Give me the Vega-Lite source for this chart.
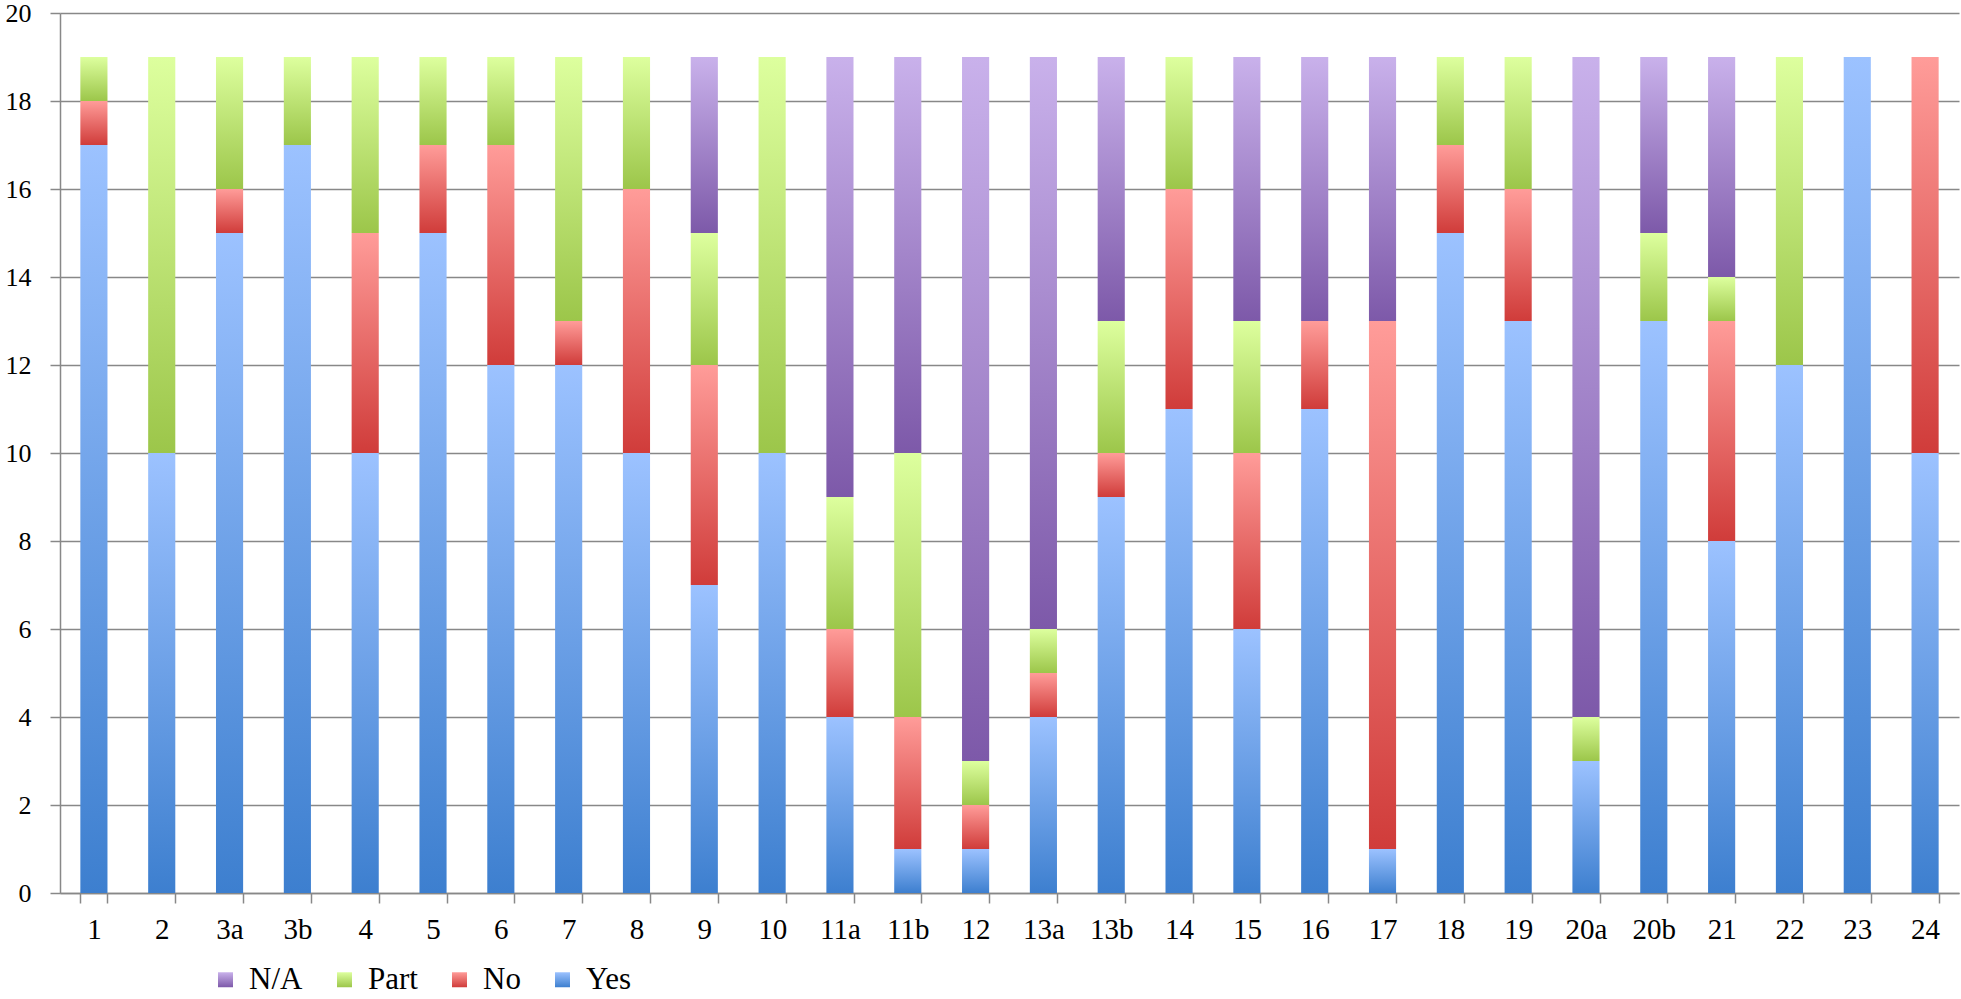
{
  "$schema": "https://vega.github.io/schema/vega-lite/v6.json",
  "width": 1899,
  "height": 880,
  "autosize": {"type": "none"},
  "padding": {"left": 60, "top": 13, "right": 2, "bottom": 106},
  "background": "white",
  "config": {"view": {"stroke": null}, "font": "Liberation Serif"},
  "data": {"values": [
    {"q":"1","s":"Yes","n":17},{"q":"1","s":"No","n":1},{"q":"1","s":"Part","n":1},
    {"q":"2","s":"Yes","n":10},{"q":"2","s":"Part","n":9},
    {"q":"3a","s":"Yes","n":15},{"q":"3a","s":"No","n":1},{"q":"3a","s":"Part","n":3},
    {"q":"3b","s":"Yes","n":17},{"q":"3b","s":"Part","n":2},
    {"q":"4","s":"Yes","n":10},{"q":"4","s":"No","n":5},{"q":"4","s":"Part","n":4},
    {"q":"5","s":"Yes","n":15},{"q":"5","s":"No","n":2},{"q":"5","s":"Part","n":2},
    {"q":"6","s":"Yes","n":12},{"q":"6","s":"No","n":5},{"q":"6","s":"Part","n":2},
    {"q":"7","s":"Yes","n":12},{"q":"7","s":"No","n":1},{"q":"7","s":"Part","n":6},
    {"q":"8","s":"Yes","n":10},{"q":"8","s":"No","n":6},{"q":"8","s":"Part","n":3},
    {"q":"9","s":"Yes","n":7},{"q":"9","s":"No","n":5},{"q":"9","s":"Part","n":3},{"q":"9","s":"N/A","n":4},
    {"q":"10","s":"Yes","n":10},{"q":"10","s":"Part","n":9},
    {"q":"11a","s":"Yes","n":4},{"q":"11a","s":"No","n":2},{"q":"11a","s":"Part","n":3},{"q":"11a","s":"N/A","n":10},
    {"q":"11b","s":"Yes","n":1},{"q":"11b","s":"No","n":3},{"q":"11b","s":"Part","n":6},{"q":"11b","s":"N/A","n":9},
    {"q":"12","s":"Yes","n":1},{"q":"12","s":"No","n":1},{"q":"12","s":"Part","n":1},{"q":"12","s":"N/A","n":16},
    {"q":"13a","s":"Yes","n":4},{"q":"13a","s":"No","n":1},{"q":"13a","s":"Part","n":1},{"q":"13a","s":"N/A","n":13},
    {"q":"13b","s":"Yes","n":9},{"q":"13b","s":"No","n":1},{"q":"13b","s":"Part","n":3},{"q":"13b","s":"N/A","n":6},
    {"q":"14","s":"Yes","n":11},{"q":"14","s":"No","n":5},{"q":"14","s":"Part","n":3},
    {"q":"15","s":"Yes","n":6},{"q":"15","s":"No","n":4},{"q":"15","s":"Part","n":3},{"q":"15","s":"N/A","n":6},
    {"q":"16","s":"Yes","n":11},{"q":"16","s":"No","n":2},{"q":"16","s":"N/A","n":6},
    {"q":"17","s":"Yes","n":1},{"q":"17","s":"No","n":12},{"q":"17","s":"N/A","n":6},
    {"q":"18","s":"Yes","n":15},{"q":"18","s":"No","n":2},{"q":"18","s":"Part","n":2},
    {"q":"19","s":"Yes","n":13},{"q":"19","s":"No","n":3},{"q":"19","s":"Part","n":3},
    {"q":"20a","s":"Yes","n":3},{"q":"20a","s":"Part","n":1},{"q":"20a","s":"N/A","n":15},
    {"q":"20b","s":"Yes","n":13},{"q":"20b","s":"Part","n":2},{"q":"20b","s":"N/A","n":4},
    {"q":"21","s":"Yes","n":8},{"q":"21","s":"No","n":5},{"q":"21","s":"Part","n":1},{"q":"21","s":"N/A","n":5},
    {"q":"22","s":"Yes","n":12},{"q":"22","s":"Part","n":7},
    {"q":"23","s":"Yes","n":19},
    {"q":"24","s":"Yes","n":10},{"q":"24","s":"No","n":9}
  ]},
  "transform": [
    {"calculate": "indexof(['Yes','No','Part','N/A'], datum.s)", "as": "ord"}
  ],
  "mark": {
    "type": "bar",
    "strokeWidth": 0,
    "fill": {"expr": "(datum.s || datum.value || datum.label)==='Yes' ? {gradient:'linear',x1:0,y1:1,x2:0,y2:0,stops:[{offset:0,color:'#3d7fcf'},{offset:1,color:'#9cc2ff'}]} : (datum.s || datum.value || datum.label)==='No' ? {gradient:'linear',x1:0,y1:1,x2:0,y2:0,stops:[{offset:0,color:'#d03c3a'},{offset:1,color:'#ff9c99'}]} : (datum.s || datum.value || datum.label)==='Part' ? {gradient:'linear',x1:0,y1:1,x2:0,y2:0,stops:[{offset:0,color:'#9cc64a'},{offset:1,color:'#ddff9e'}]} : {gradient:'linear',x1:0,y1:1,x2:0,y2:0,stops:[{offset:0,color:'#7d59a9'},{offset:1,color:'#c9b1eb'}]}"}
  },
  "encoding": {
    "x": {
      "field": "q", "type": "nominal", "sort": null,
      "scale": {"paddingInner": 0.6, "paddingOuter": 0.3},
      "axis": {
        "title": null, "labelAngle": 0, "labelFontSize": 29, "labelColor": "black",
        "labelPadding": 12, "tickBand": "extent", "tickSize": 10, "tickColor": "#888888",
        "tickWidth": 1.5, "domainColor": "#888888", "domainWidth": 1.5, "grid": false
      }
    },
    "y": {
      "field": "n", "type": "quantitative", "stack": "zero",
      "scale": {"domain": [0, 20]},
      "axis": {
        "title": null, "values": [0,2,4,6,8,10,12,14,16,18,20], "labelFontSize": 26, "labelColor": "black",
        "labelPadding": 19, "tickSize": 10, "tickColor": "#888888", "tickWidth": 1.5,
        "domainColor": "#888888", "domainWidth": 1.5, "grid": true, "gridColor": "#888888", "gridWidth": 1.5
      }
    },
    "order": {"field": "ord", "type": "quantitative", "sort": "ascending"},
    "stroke": {
      "field": "s", "type": "nominal",
      "scale": {
        "domain": ["N/A", "Part", "No", "Yes"],
        "range": ["#9f83c9", "#bde274", "#e86a68", "#6da0e6"]
      },
      "legend": {
        "title": null, "orient": "none", "direction": "horizontal", "legendX": 150, "legendY": 951,
        "symbolType": "square", "symbolSize": 225, "symbolStrokeWidth": 0, "labelFontSize": 31,
        "labelColor": "black", "columnPadding": 26, "labelOffset": 8,
        "encode": {
          "symbols": {
            "strokeWidth": {"value": 0},
            "fillOpacity": {"value": 1}
          }
        }
      }
    }
  }
}
